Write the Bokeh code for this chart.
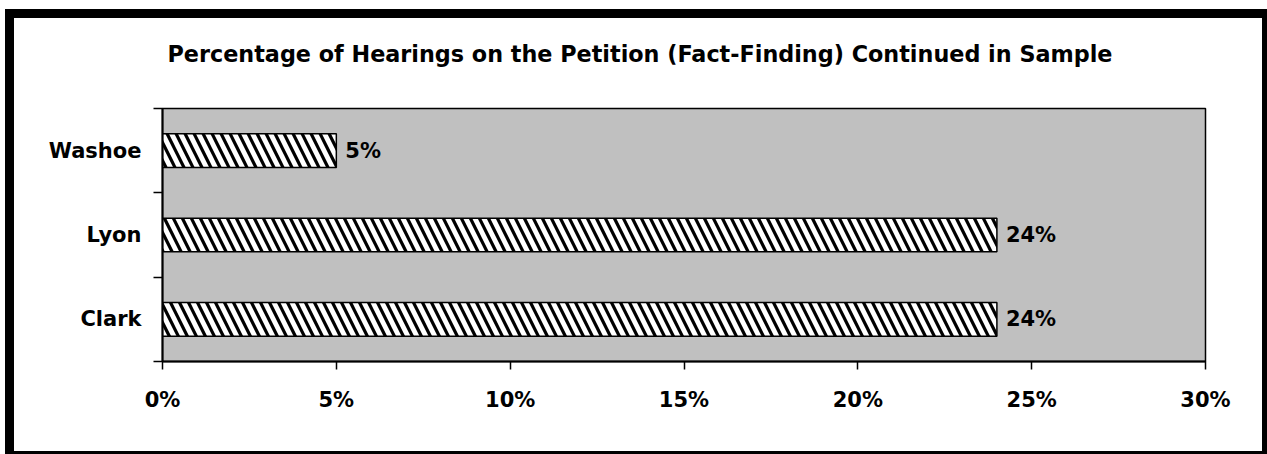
from bokeh.plotting import figure
from bokeh.models import (FactorRange, Range1d, LinearAxis, CategoricalAxis, FixedTicker,
                          NumeralTickFormatter, ColumnDataSource, Title)
from bokeh.core.properties import value
from bokeh.embed import file_html
from bokeh.resources import INLINE

# ---- data ----
categories = ["Clark", "Lyon", "Washoe"]          # bottom to top
percent_values = [0.24, 0.24, 0.05]
value_labels = ["24%", "24%", "5%"]
x_tick_values = [0.0, 0.05, 0.10, 0.15, 0.20, 0.25, 0.30]
category_boundaries = [0, 1, 2, 3]
title_text = "Percentage of Hearings on the Petition (Fact-Finding) Continued in Sample"

FONT = "DejaVu Sans"

p = figure(width=1248, height=433, output_backend="svg", toolbar_location=None,
           y_range=FactorRange(factors=categories, range_padding=0),
           x_range=Range1d(0, 0.30), y_axis_location=None, x_axis_location="below",
           min_border_left=148, min_border_right=57, min_border_top=90, min_border_bottom=90,
           background_fill_color="#C0C0C0", border_fill_color="white")
p.margin = (18, 0, 0, 14)
p.styles = {"box-shadow": "0 0 0 9px black"}

# title: an invisible spacer next to the frame, then the real title above it
p.title.text = ""
spacer = Title(text=" ", text_font_size="1px", standoff=39)
p.add_layout(spacer, "above")
main_title = Title(text=title_text, align="left", offset=5, vertical_align="bottom",
                   standoff=0, text_font=FONT, text_font_style="bold",
                   text_font_size="22.3px", text_color="black")
p.add_layout(main_title, "above")

# frame outline
p.outline_line_color = "black"
p.outline_line_width = 1.5
p.xgrid.visible = False
p.ygrid.visible = False

# x axis
xa = p.xaxis[0]
xa.ticker = FixedTicker(ticks=x_tick_values)
xa.formatter = NumeralTickFormatter(format="0%")
xa.major_tick_in = 0
xa.major_tick_out = 8
xa.minor_tick_line_color = None
xa.axis_line_color = "black"
xa.axis_line_width = 2
xa.major_tick_line_width = 1.5
xa.major_label_text_font = FONT
xa.major_label_text_font_style = "bold"
xa.major_label_text_font_size = "21px"
xa.major_label_text_color = "black"
xa.major_label_standoff = 18

# y boundary tick axis (inner) - ticks between categories
ta = LinearAxis(ticker=FixedTicker(ticks=category_boundaries),
                major_label_overrides={b: "" for b in category_boundaries})
ta.major_tick_in = 0
ta.major_tick_out = 9
ta.major_tick_line_width = 1.5
ta.axis_line_color = "black"
ta.axis_line_width = 2
ta.major_label_standoff = 0
ta.major_label_text_font_size = "1px"
ta.minor_tick_line_color = None
p.add_layout(ta, "left")

# categorical label axis (outer)
ca = CategoricalAxis()
ca.axis_line_color = None
ca.major_tick_line_color = None
ca.major_tick_out = 0
ca.major_tick_in = 0
ca.major_label_standoff = 12
ca.major_label_text_font = FONT
ca.major_label_text_font_style = "bold"
ca.major_label_text_font_size = "21px"
ca.major_label_text_color = "black"
p.add_layout(ca, "left")

src = ColumnDataSource(dict(cat=categories, val=percent_values, lab=value_labels))
p.hbar(y="cat", left=0, right="val", height=0.4, source=src,
       fill_color="white", line_color="black", line_width=1.5,
       hatch_pattern="\\", hatch_color="black", hatch_scale=18, hatch_weight=3.2)
p.text(x="val", y="cat", text="lab", source=src, x_offset=9,
       text_baseline="middle", text_align="left",
       text_font=value(FONT), text_font_style="bold", text_font_size="21px",
       text_color="black")

open("out.html", "w").write(file_html(p, INLINE))
